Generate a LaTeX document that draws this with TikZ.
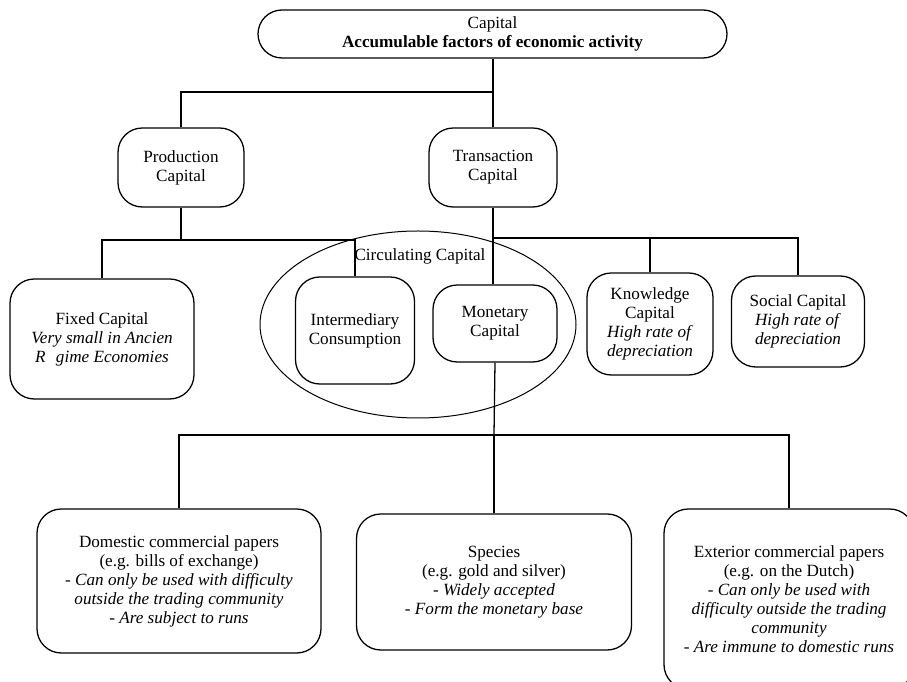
\documentclass[tikz,border=0pt]{standalone}
\usepackage{fontspec}
\setmainfont{Liberation Serif}
\usetikzlibrary{shapes.geometric}

\begin{document}
\begin{tikzpicture}[x=0.7pt, y=-0.7pt,
 every node/.style = {font=\rmfamily\fontsize{12}{13.3}\selectfont, align=center, inner sep=0pt},
 capbox/.style = {draw, line width=0.9pt, rounded corners=17pt},
 link/.style = {line width=0.9pt},
]
 \useasboundingbox (0,0) rectangle (907,682);
 \clip (0,0) rectangle (907,682);

 \node[capbox, rounded corners=16.8pt, minimum width=328.3pt, minimum height=33.6pt] (capital) at (492.5,34) {Capital\\ \textbf{Accumulable factors of economic activity}};
 \node[capbox, minimum width=88.2pt, minimum height=55.3pt] (prod) at (181,167.5) {Production\\ Capital};
 \node[capbox, minimum width=89.6pt, minimum height=55.3pt] (trans) at (493,167.5) {Transaction\\ Capital};

 \node[draw, ellipse, line width=0.7pt, minimum width=221.2pt, minimum height=130.9pt] (circ) at (418,324.5) {};
 \node (circlabel) at (420,256) {Circulating Capital};

 \node[capbox, minimum width=128.8pt, minimum height=84pt] (fixed) at (102,339) {Fixed Capital\\ \textit{Very small in Ancien}\\ \textit{R\hspace{0.6em}gime Economies}};
 \node[capbox, minimum width=83.3pt, minimum height=74.9pt] (interm) at (355,330.5) {Intermediary\\ Consumption};
 \node[capbox, minimum width=86.8pt, minimum height=53.9pt] (monet) at (495,323.5) {Monetary\\ Capital};
 \node[capbox, minimum width=88.2pt, minimum height=71.4pt] (know) at (650,324) {Knowledge\\ Capital\\ \textit{High rate of}\\ \textit{depreciation}};
 \node[capbox, minimum width=93.1pt, minimum height=63.7pt] (social) at (798,321.5) {Social Capital\\ \textit{High rate of}\\ \textit{depreciation}};

 \node[capbox, minimum width=198.8pt, minimum height=100.8pt] (dom) at (179,581) {Domestic commercial papers\\ (e.g. bills of exchange)\\ \textit{- Can only be used with difficulty}\\ \textit{outside the trading community}\\ \textit{- Are subject to runs}};
 \node[capbox, minimum width=192.5pt, minimum height=95.2pt] (spec) at (494,582) {Species\\ (e.g. gold and silver)\\ \textit{- Widely accepted}\\ \textit{- Form the monetary base}};
 \node[capbox, minimum width=175pt, minimum height=126pt] (ext) at (789,599) {Exterior commercial papers\\ (e.g. on the Dutch)\\ \textit{- Can only be used with}\\ \textit{difficulty outside the trading}\\ \textit{community}\\ \textit{- Are immune to domestic runs}};

 \coordinate (topbus) at (493,92);
 \coordinate (pbus) at (181,240);
 \coordinate (tbus) at (493,238);
 \coordinate (mbus) at (494,435);

 \draw[link] (capital.south -| trans) -- (trans.north);
 \draw[link] (topbus) -| (prod.north);
 \draw[link] (prod.south) -- (pbus);
 \draw[link] (fixed.north) |- (pbus) -| (interm.north);
 \draw[link] (trans.south) -- (trans.south |- monet.north);
 \draw[link] (tbus) -| (know.north);
 \draw[link] (tbus) -| (social.north);
 \draw[link] (monet.south) -- (mbus);
 \draw[link] (dom.north) |- (mbus) -| (ext.north);
 \draw[link] (mbus) -- (spec.north);

\end{tikzpicture}
\end{document}
